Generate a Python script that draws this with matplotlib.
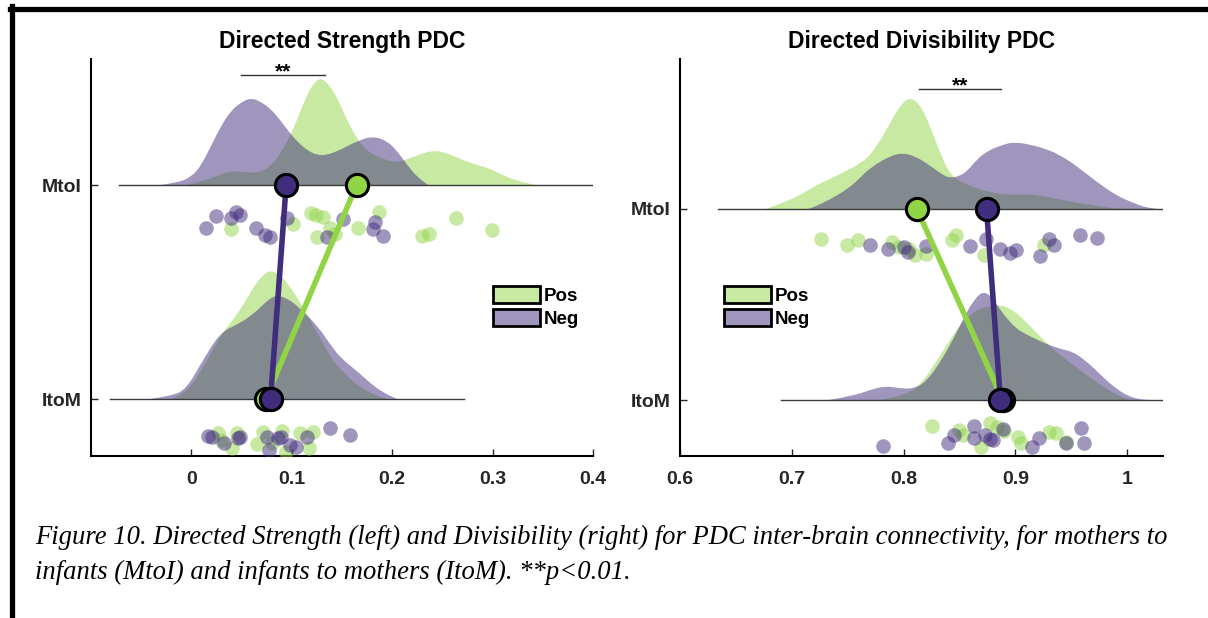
import matplotlib
matplotlib.use("Agg")
import matplotlib.pyplot as plt
from matplotlib.lines import Line2D
from matplotlib.patches import Patch, PathPatch
from matplotlib.path import Path
from matplotlib.colors import to_rgb
import numpy as np

plt.rcParams["font.family"] = ["Liberation Sans", "DejaVu Sans"]
plt.rcParams["font.weight"] = "bold"

rows = ["ItoM", "MtoI"]
groups = ["Pos", "Neg"]

# ---------------- Directed Strength PDC ----------------
# rain: values and drop below the baseline
str_mtoi_pos = [0.039, 0.1015, 0.119, 0.124, 0.131, 0.125, 0.138, 0.143, 0.166, 0.187, 0.230, 0.237, 0.264, 0.299]
str_mtoi_pos_jit = [0.206, 0.182, 0.131, 0.140, 0.150, 0.243, 0.201, 0.229, 0.201, 0.126, 0.238, 0.229, 0.154, 0.210]
str_mtoi_neg = [0.015, 0.0245, 0.039, 0.044, 0.048, 0.064, 0.073, 0.078, 0.095, 0.135, 0.151, 0.181, 0.183, 0.191]
str_mtoi_neg_jit = [0.201, 0.145, 0.154, 0.126, 0.140, 0.201, 0.234, 0.243, 0.154, 0.243, 0.159, 0.206, 0.173, 0.238]
str_itom_pos = [0.027, 0.030, 0.040, 0.045, 0.065, 0.071, 0.080, 0.090, 0.094, 0.1085, 0.117, 0.121]
str_itom_pos_jit = [0.159, 0.192, 0.229, 0.159, 0.210, 0.154, 0.206, 0.150, 0.248, 0.159, 0.229, 0.154]
str_itom_neg = [0.017, 0.021, 0.032, 0.046, 0.048, 0.075, 0.077, 0.086, 0.089, 0.0985, 0.104, 0.115, 0.138, 0.1575]
str_itom_neg_jit = [0.173, 0.178, 0.206, 0.182, 0.178, 0.178, 0.238, 0.182, 0.178, 0.215, 0.224, 0.178, 0.136, 0.168]

# clouds: density profile (x, height)
str_mtoi_pos_kx = [-0.005, 0.015, 0.030, 0.040, 0.052, 0.066, 0.078, 0.088, 0.100, 0.110, 0.120, 0.129, 0.138,
                   0.146, 0.155, 0.165, 0.175, 0.188, 0.205, 0.220, 0.240, 0.255, 0.270, 0.285, 0.296, 0.310,
                   0.325, 0.343]
str_mtoi_pos_kd = [0, 5, 11, 14, 13, 12, 18, 30, 52, 78, 100, 108, 99, 86, 65, 46, 34, 27, 22, 28, 35, 32, 25,
                   20, 17, 10, 4, 0]
str_mtoi_neg_kx = [-0.032, -0.015, 0.0, 0.010, 0.020, 0.030, 0.040, 0.050, 0.059, 0.068, 0.078, 0.087, 0.095,
                   0.105, 0.115, 0.125, 0.135, 0.148, 0.165, 0.181, 0.195, 0.205, 0.215, 0.225, 0.236]
str_mtoi_neg_kd = [0, 2, 8, 20, 40, 60, 75, 83, 87, 84, 77, 67, 56, 44, 35, 30, 30, 35, 44, 49, 44, 34, 20, 8, 0]
str_itom_pos_kx = [-0.020, -0.005, 0.011, 0.029, 0.047, 0.063, 0.072, 0.080, 0.090, 0.100, 0.110, 0.126, 0.140,
                   0.150, 0.165, 0.180, 0.195]
str_itom_pos_kd = [0, 6, 30, 64, 86, 114, 125, 129, 123, 110, 94, 65, 40, 28, 14, 5, 0]
str_itom_neg_kx = [-0.042, -0.020, -0.005, 0.011, 0.029, 0.047, 0.063, 0.075, 0.084, 0.095, 0.106, 0.126, 0.140,
                   0.150, 0.165, 0.177, 0.190, 0.205]
str_itom_neg_kd = [0, 3, 10, 38, 67, 75, 86, 98, 104, 101, 93, 73, 52, 40, 28, 17, 7, 0]
str_base_mtoi = [-0.072, 0.404]
str_base_itom = [-0.081, 0.272]

# ---------------- Directed Divisibility PDC ----------------
div_mtoi_pos = [0.726, 0.749, 0.759, 0.790, 0.796, 0.805, 0.810, 0.820, 0.843, 0.847, 0.872, 0.926]
div_mtoi_pos_jit = [0.157, 0.188, 0.162, 0.173, 0.199, 0.209, 0.241, 0.236, 0.162, 0.136, 0.241, 0.188]
div_mtoi_neg = [0.770, 0.786, 0.800, 0.804, 0.820, 0.859, 0.874, 0.886, 0.895, 0.901, 0.922, 0.930, 0.935, 0.958, 0.973]
div_mtoi_neg_jit = [0.188, 0.209, 0.199, 0.225, 0.194, 0.194, 0.157, 0.209, 0.230, 0.215, 0.246, 0.157, 0.188, 0.136, 0.152]
div_itom_pos = [0.825, 0.850, 0.853, 0.869, 0.877, 0.884, 0.890, 0.902, 0.905, 0.930, 0.936, 0.945]
div_itom_pos_jit = [0.136, 0.157, 0.183, 0.246, 0.120, 0.141, 0.162, 0.194, 0.225, 0.168, 0.173, 0.220]
div_itom_neg = [0.782, 0.840, 0.845, 0.863, 0.863, 0.873, 0.877, 0.880, 0.889, 0.915, 0.921, 0.945, 0.959, 0.961]
div_itom_neg_jit = [0.241, 0.225, 0.183, 0.136, 0.199, 0.183, 0.204, 0.209, 0.152, 0.246, 0.199, 0.225, 0.147, 0.225]

div_mtoi_pos_kx = [0.677, 0.702, 0.722, 0.740, 0.750, 0.762, 0.771, 0.780, 0.788, 0.797, 0.806, 0.815, 0.823,
                   0.832, 0.842, 0.857, 0.875, 0.895, 0.913, 0.930, 0.951, 0.979, 0.995]
div_mtoi_pos_kd = [0, 10, 24, 33, 39, 46, 55, 70, 86, 104, 112, 104, 85, 58, 33, 24, 17, 14, 15, 12, 7, 2, 0]
div_mtoi_neg_kx = [0.715, 0.722, 0.735, 0.750, 0.760, 0.771, 0.788, 0.799, 0.810, 0.823, 0.835, 0.842, 0.850,
                   0.857, 0.866, 0.875, 0.888, 0.899, 0.915, 0.930, 0.941, 0.951, 0.965, 0.979, 0.993, 1.006,
                   1.015, 1.027]
div_mtoi_neg_kd = [0, 3, 10, 20, 30, 42, 53, 56, 53, 44, 34, 31, 33, 38, 50, 58, 64, 67, 64, 59, 53, 46, 34, 22,
                   12, 6, 2, 0]
div_itom_pos_kx = [0.780, 0.802, 0.816, 0.833, 0.850, 0.862, 0.875, 0.889, 0.900, 0.909, 0.920, 0.930, 0.941,
                   0.952, 0.972, 0.992, 1.005]
div_itom_pos_kd = [0, 5, 16, 45, 75, 88, 94, 95, 88, 79, 66, 55, 44, 35, 18, 4, 0]
div_itom_neg_kx = [0.733, 0.754, 0.770, 0.783, 0.795, 0.808, 0.820, 0.833, 0.845, 0.855, 0.863, 0.871, 0.879,
                   0.889, 0.900, 0.909, 0.920, 0.930, 0.941, 0.952, 0.962, 0.972, 0.982, 0.992, 1.001, 1.010,
                   1.020]
div_itom_neg_kd = [0, 4, 10, 14, 12, 11, 18, 38, 62, 85, 100, 109, 103, 86, 72, 66, 60, 55, 51, 48, 40, 30, 19,
                   10, 4, 1, 0]
div_base_mtoi = [0.634, 1.06]
div_base_itom = [0.690, 1.06]

green = "#91d547"
purple = "#412d7d"
tick_col = "#262626"


def cloud(ax, kx, kd, r, dscale, col):
    # smooth outline: read points used as quadratic bezier controls
    pts = np.column_stack([kx, r + np.asarray(kd, float) * dscale])
    verts = [(pts[0, 0], r), tuple(pts[0])]
    codes = [Path.MOVETO, Path.LINETO]
    for i in range(1, len(pts) - 1):
        mid = (pts[i] + pts[i + 1]) / 2
        verts += [tuple(pts[i]), tuple(mid)]
        codes += [Path.CURVE3, Path.CURVE3]
    verts += [tuple(pts[-1]), (pts[-1, 0], r), (pts[0, 0], r)]
    codes += [Path.LINETO, Path.LINETO, Path.CLOSEPOLY]
    ax.add_patch(PathPatch(Path(verts, codes), facecolor=col, alpha=0.5, lw=0))


def raincloud(ax, data, dscale):
    means = {}
    for r, key in enumerate(rows):
        d = data[key]
        for (kx, kd), col in zip(d["cloud"], (green, purple)):
            cloud(ax, kx, kd, r, dscale, col)
        ax.plot(d["base"], [r, r], color="#3a3a3a", lw=1, zorder=2)
        for (vals, jit), col in zip(d["rain"], (green, purple)):
            ax.scatter(vals, r - np.asarray(jit), s=110, color=col, alpha=0.5, lw=0, zorder=3)
        means[key] = [np.mean(v) for v, j in d["rain"]]
    for i, col in enumerate((green, purple)):
        ax.plot([means["MtoI"][i], means["ItoM"][i]], [1, 0], color=col, lw=4, zorder=4)
    for i, col in enumerate((green, purple)):
        ax.plot([means["MtoI"][i], means["ItoM"][i]], [1, 0], ls="none", marker="o", ms=16,
                mfc=col, mec="black", mew=2.2, zorder=5)


def style(ax, xticks, xlabels, xlim, ylim, title):
    ax.set_xlim(xlim)
    ax.set_ylim(ylim)
    ax.set_xticks(xticks)
    ax.set_xticklabels(xlabels)
    ax.set_yticks([0, 1])
    ax.set_yticklabels(rows)
    ax.tick_params(direction="in", length=5, width=1, colors=tick_col, labelsize=14)
    ax.tick_params(axis="x", pad=11)
    ax.tick_params(axis="y", pad=7)
    for s in ("top", "right"):
        ax.spines[s].set_visible(False)
    for s in ("left", "bottom"):
        ax.spines[s].set_linewidth(1.5)
        ax.spines[s].set_color("black")
    ax.set_title(title, fontsize=16.5, fontweight="bold", pad=8)


def sig_bar(ax, x0, x1, y):
    ax.plot([x0, x1], [y, y], color="#333333", lw=1)
    ax.annotate("**", ((x0 + x1) / 2, y), xytext=(0, -2), textcoords="offset points",
                ha="center", va="baseline", fontsize=15, fontweight="bold")


def legend(ax, x, y):
    h = [Patch(facecolor=(*to_rgb(c), 0.5), edgecolor="black", lw=2) for c in (green, purple)]
    ax.legend(h, groups, loc="upper left", bbox_to_anchor=(x, y), frameon=False, fontsize=13.5,
              borderpad=0, borderaxespad=0, handlelength=2.5, handleheight=1.0,
              handletextpad=0.2, labelspacing=0.22)


fig = plt.figure(figsize=(12.08, 6.18), dpi=100)
ax1 = fig.add_axes([0.0753, 0.2621, 0.4156, 0.6424])
ax2 = fig.add_axes([0.5629, 0.2621, 0.3998, 0.6424])

strength = {
    "MtoI": {"rain": [(str_mtoi_pos, str_mtoi_pos_jit), (str_mtoi_neg, str_mtoi_neg_jit)],
             "cloud": [(str_mtoi_pos_kx, str_mtoi_pos_kd), (str_mtoi_neg_kx, str_mtoi_neg_kd)],
             "base": str_base_mtoi},
    "ItoM": {"rain": [(str_itom_pos, str_itom_pos_jit), (str_itom_neg, str_itom_neg_jit)],
             "cloud": [(str_itom_pos_kx, str_itom_pos_kd), (str_itom_neg_kx, str_itom_neg_kd)],
             "base": str_base_itom},
}
divis = {
    "MtoI": {"rain": [(div_mtoi_pos, div_mtoi_pos_jit), (div_mtoi_neg, div_mtoi_neg_jit)],
             "cloud": [(div_mtoi_pos_kx, div_mtoi_pos_kd), (div_mtoi_neg_kx, div_mtoi_neg_kd)],
             "base": div_base_mtoi},
    "ItoM": {"rain": [(div_itom_pos, div_itom_pos_jit), (div_itom_neg, div_itom_neg_jit)],
             "cloud": [(div_itom_pos_kx, div_itom_pos_kd), (div_itom_neg_kx, div_itom_neg_kd)],
             "base": div_base_itom},
}

raincloud(ax1, strength, 1 / 214)
style(ax1, [0, 0.1, 0.2, 0.3, 0.4], ["0", "0.1", "0.2", "0.3", "0.4"], (-0.1, 0.4), (-0.266, 1.589),
      "Directed Strength PDC")
sig_bar(ax1, 0.0498, 0.1333, 1.514)
legend(ax1, 0.801, 0.428)

raincloud(ax2, divis, 1 / 191)
style(ax2, [0.6, 0.7, 0.8, 0.9, 1.0], ["0.6", "0.7", "0.8", "0.9", "1"], (0.6, 1.032), (-0.293, 1.785),
      "Directed Divisibility PDC")
sig_bar(ax2, 0.8134, 0.8875, 1.628)
legend(ax2, 0.091, 0.428)

# page frame
fig.add_artist(Line2D([11.5 / 1208, 11.5 / 1208], [0, 1 - 6 / 618], color="black", lw=3.8))
fig.add_artist(Line2D([9.6 / 1208, 1], [1 - 8.5 / 618, 1 - 8.5 / 618], color="black", lw=3.8))

caption = ("Figure 10. Directed Strength (left) and Divisibility (right) for PDC inter-brain connectivity, for mothers to\n"
           "infants (MtoI) and infants to mothers (ItoM). **p<0.01.")
fig.text(35 / 1208, 1 - 525 / 618, caption, family="Liberation Serif", style="italic", weight="normal",
         fontsize=19.2, va="top", ha="left", linespacing=1.5)

plt.savefig("out.png", dpi=100)
